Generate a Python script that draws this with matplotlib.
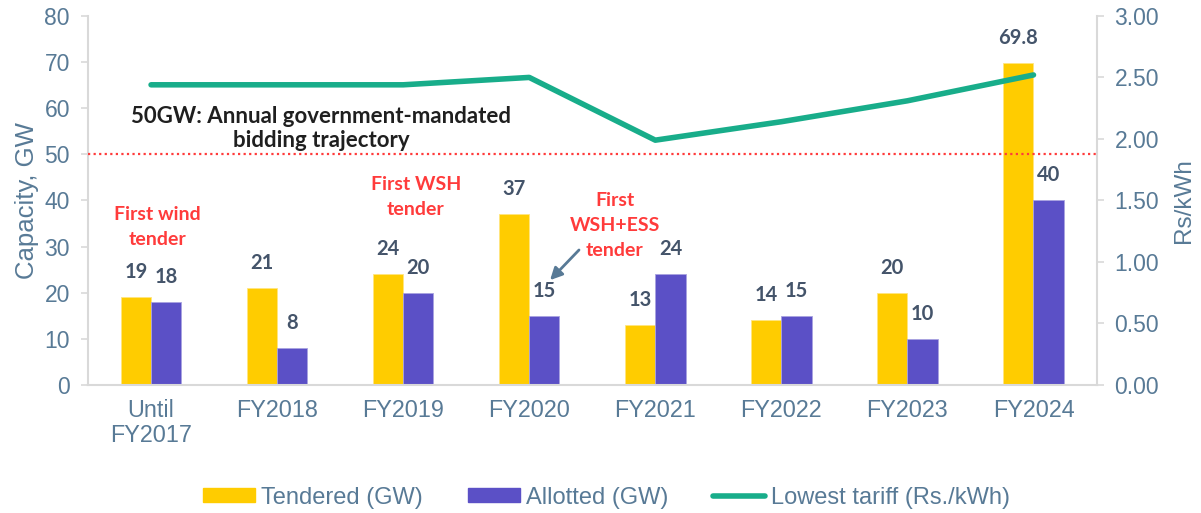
import matplotlib.pyplot as plt
import numpy as np
from matplotlib.lines import Line2D
from matplotlib.patches import Patch

categories = ["Until\nFY2017", "FY2018", "FY2019", "FY2020", "FY2021", "FY2022", "FY2023", "FY2024"]
tendered = [19, 21, 24, 37, 13, 14, 20, 69.8]
allotted = [18, 8, 20, 15, 24, 15, 10, 40]
tendered_labels = ["19", "21", "24", "37", "13", "14", "20", "69.8"]
allotted_labels = ["18", "8", "20", "15", "24", "15", "10", "40"]
lowest_tariff = [2.44, 2.44, 2.44, 2.50, 1.99, 2.14, 2.31, 2.52]
mandate = 50

yellow = "#FFCC00"
purple = "#5B50C6"
green = "#18AD8A"
red = "#FF3B3B"
tick_col = "#587A96"
lbl_col = "#44546A"
spine_col = "#D9D9D9"

plt.rcParams["font.family"] = ["Liberation Sans", "DejaVu Sans"]

fig = plt.figure(figsize=(12.01, 5.13), dpi=100)
ax = fig.add_axes([0.0733, 0.2495, 0.8397, 0.7195])
ax2 = ax.twinx()

x = np.arange(len(categories))
w = 0.24
ax.bar(x - w / 2, tendered, w, color=yellow, edgecolor="#FFE680", linewidth=0.6, zorder=2)
ax.bar(x + w / 2, allotted, w, color=purple, edgecolor="#A9A3E0", linewidth=0.6, zorder=2)

bold = dict(family="Lato", fontweight="bold", fontsize=14.5, color=lbl_col, ha="center", va="bottom")
for i in range(len(categories)):
    ax.text(x[i] - w / 2, tendered[i] + 3.3, tendered_labels[i], **bold)
    ax.text(x[i] + w / 2, allotted[i] + 3.3, allotted_labels[i], **bold)

ax.axhline(mandate, color=red, linestyle=(0, (1, 1.5)), linewidth=1.6, zorder=3)

ax2.plot(x, lowest_tariff, color=green, linewidth=4, solid_capstyle="round", zorder=4)

ax.set_xlim(-0.5, len(categories) - 0.5)
ax.set_ylim(0, 80)
ax2.set_ylim(0, 3)
ax.set_yticks(range(0, 81, 10))
ax2.set_yticks(np.arange(0, 3.01, 0.5))
ax2.set_yticklabels([f"{v:.2f}" for v in np.arange(0, 3.01, 0.5)])
ax.set_xticks(x)
ax.set_xticklabels(categories, linespacing=1.1)

ax.tick_params(axis="y", colors=spine_col, labelcolor=tick_col, labelsize=16.5, length=5, width=1.2, pad=8)
ax2.tick_params(axis="y", colors=spine_col, labelcolor=tick_col, labelsize=16.5, length=5, width=1.2, pad=8)
ax.tick_params(axis="x", length=0, labelcolor=tick_col, labelsize=16.8, pad=10)

for a in (ax, ax2):
    a.spines["top"].set_visible(False)
    for s in ("left", "right", "bottom"):
        a.spines[s].set_color(spine_col)
        a.spines[s].set_linewidth(1.5)
ax.spines["right"].set_visible(False)
ax2.spines["left"].set_visible(False)
ax2.spines["bottom"].set_visible(False)

ax.set_ylabel("Capacity, GW", fontsize=18.5, color=tick_col, labelpad=4)
ax2.set_ylabel("Rs/kWh", fontsize=17.5, color=tick_col, labelpad=10)

ax.text(1.35, 55.6, "50GW: Annual government-mandated\nbidding trajectory", family="Lato",
        fontweight="bold", fontsize=16, color="#1F1F1F", ha="center", va="center",
        linespacing=1.2, zorder=5)

red_txt = dict(family="Lato", fontweight="bold", fontsize=14, color=red, ha="center", va="center",
               linespacing=1.55)
ax.text(0.05, 34.2, "First wind\ntender", **red_txt)
ax.text(2.1, 40.8, "First WSH\ntender", **red_txt)
ax.text(3.68, 34.6, "First\nWSH+ESS\ntender", **red_txt)
ax.annotate("", xy=(3.15, 22.3), xytext=(3.41, 29.7),
            arrowprops=dict(arrowstyle="-|>", color="#587A96", lw=2, mutation_scale=18), zorder=5)

handles = [Patch(color=yellow, label="Tendered (GW)"),
           Patch(color=purple, label="Allotted (GW)"),
           Line2D([0], [0], color=green, linewidth=4, solid_capstyle="round", label="Lowest tariff (Rs./kWh)")]
leg = fig.legend(handles=handles, loc="center", bbox_to_anchor=(0.505, 0.03), ncol=3, frameon=False,
                 fontsize=17, handlelength=2.2, handleheight=0.5, columnspacing=1.9, handletextpad=0.25)
for t in leg.get_texts():
    t.set_color(tick_col)

fig.savefig("out.png", dpi=100)
